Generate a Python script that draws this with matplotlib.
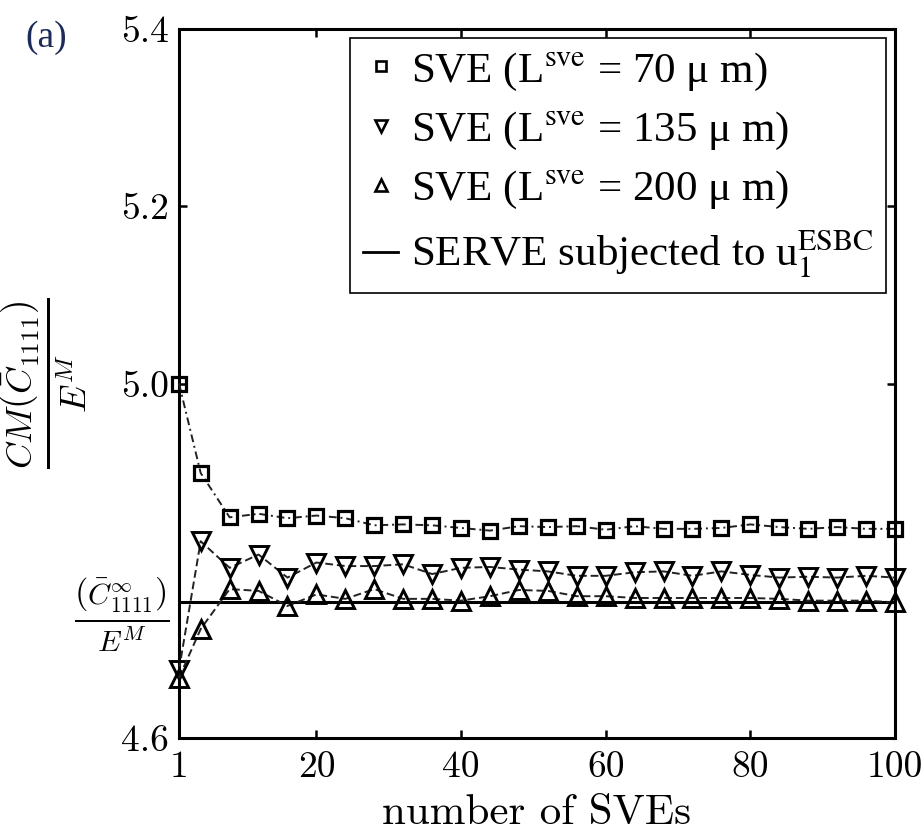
import matplotlib.pyplot as plt
from matplotlib.lines import Line2D
from matplotlib.font_manager import FontProperties

# number of SVEs
n_sve = [1, 4, 8, 12, 16, 20, 24, 28, 32, 36, 40, 44, 48, 52, 56, 60, 64, 68, 72, 76, 80, 84, 88, 92, 96, 100]

sve_70 = [5.000, 4.899, 4.849, 4.853, 4.848, 4.851, 4.848, 4.840, 4.841, 4.840, 4.837, 4.834, 4.839,
          4.838, 4.839, 4.835, 4.839, 4.836, 4.836, 4.837, 4.841, 4.838, 4.836, 4.838, 4.836, 4.836]
sve_135 = [4.677, 4.822, 4.792, 4.807, 4.781, 4.798, 4.794, 4.794, 4.796, 4.785, 4.792, 4.793, 4.790,
           4.788, 4.783, 4.783, 4.787, 4.788, 4.783, 4.788, 4.784, 4.781, 4.782, 4.781, 4.783, 4.781]
sve_200 = [4.668, 4.723, 4.768, 4.766, 4.749, 4.762, 4.757, 4.768, 4.757, 4.757, 4.755, 4.760, 4.767,
           4.766, 4.760, 4.760, 4.758, 4.758, 4.758, 4.758, 4.758, 4.757, 4.755, 4.755, 4.755, 4.753]
serve_value = 4.753

labels = [r'SVE (L$^{\mathrm{sve}}$ = 70 μ m)',
          r'SVE (L$^{\mathrm{sve}}$ = 135 μ m)',
          r'SVE (L$^{\mathrm{sve}}$ = 200 μ m)',
          r'SERVE subjected to u$_{1}^{\mathrm{ESBC}}$']

x_ticks = [1, 20, 40, 60, 80, 100]
y_ticks = [4.6, serve_value, 5.0, 5.2, 5.4]
y_ticklabels = ['4.6', r'$\frac{\left(\bar{C}^{\infty}_{1111}\right)}{E^M}$', '5.0', '5.2', '5.4']

fig = plt.figure(figsize=(9.22, 8.36), dpi=100)
ax = fig.add_axes([179 / 922, 1 - 738 / 836, (895 - 179) / 922, (738 - 29) / 836])

ax.plot(n_sve, sve_70, color='#222222', lw=1.4, ls=(0, (4, 2, 1, 2)), marker='s', ms=10,
        mfc='none', mec='black', mew=2.3, clip_on=False, zorder=3)
ax.plot(n_sve, sve_135, color='#222222', lw=1.4, ls=(0, (4, 2)), marker='v', ms=13,
        mfc='none', mec='black', mew=2.1, clip_on=False, zorder=3)
ax.plot(n_sve, sve_200, color='#222222', lw=1.4, ls=(0, (4, 2)), marker='^', ms=13,
        mfc='none', mec='black', mew=2.1, clip_on=False, zorder=3)
ax.plot([n_sve[0], n_sve[-1]], [serve_value, serve_value], color='black', lw=2.2, zorder=2)

ax.set_xlim(1, 100)
ax.set_ylim(4.6, 5.4)
ax.set_xticks(x_ticks)
ax.set_xticklabels([str(t) for t in x_ticks], fontfamily='cmr10', fontsize=27)
ax.set_yticks(y_ticks)
ax.set_yticklabels(y_ticklabels, fontfamily='cmr10', fontsize=27, math_fontfamily='cm')
ax.get_yticklabels()[1].set_fontsize(31)
ax.tick_params(direction='in', length=6, width=1.8, top=True, right=True)
ax.tick_params(axis='x', pad=9)
ax.tick_params(axis='y', pad=7)
for sp in ax.spines.values():
    sp.set_linewidth(2.2)

ax.set_xlabel('number of SVEs', fontfamily='cmr10', fontsize=31, labelpad=8)
ax.set_ylabel(r'$\frac{CM\left(\bar{C}_{1111}\right)}{E^M}$', fontsize=37, math_fontfamily='cm')
ax.yaxis.set_label_coords(-0.125, 0.5)

handles = [Line2D([], [], ls='none', marker='s', ms=7, mfc='none', mec='black', mew=1.9),
           Line2D([], [], ls='none', marker='v', ms=8, mfc='none', mec='black', mew=1.9),
           Line2D([], [], ls='none', marker='^', ms=8, mfc='none', mec='black', mew=1.9),
           Line2D([], [], color='black', lw=2.0)]
fp = FontProperties(family='Liberation Serif', size=31, math_fontfamily='stix')
leg = ax.legend(handles, labels, loc='upper right', prop=fp, fancybox=False, framealpha=1,
                edgecolor='black', handlelength=0.8, handletextpad=0.3, labelspacing=0.4,
                borderpad=0.3, borderaxespad=0.2)
leg.get_frame().set_linewidth(1.2)

fig.text(25 / 922, 1 - 38 / 836, '(a)', fontfamily='Liberation Serif', fontsize=27,
         color='#1c2b5a', va='center', ha='left')

fig.savefig('out.png', dpi=100)
